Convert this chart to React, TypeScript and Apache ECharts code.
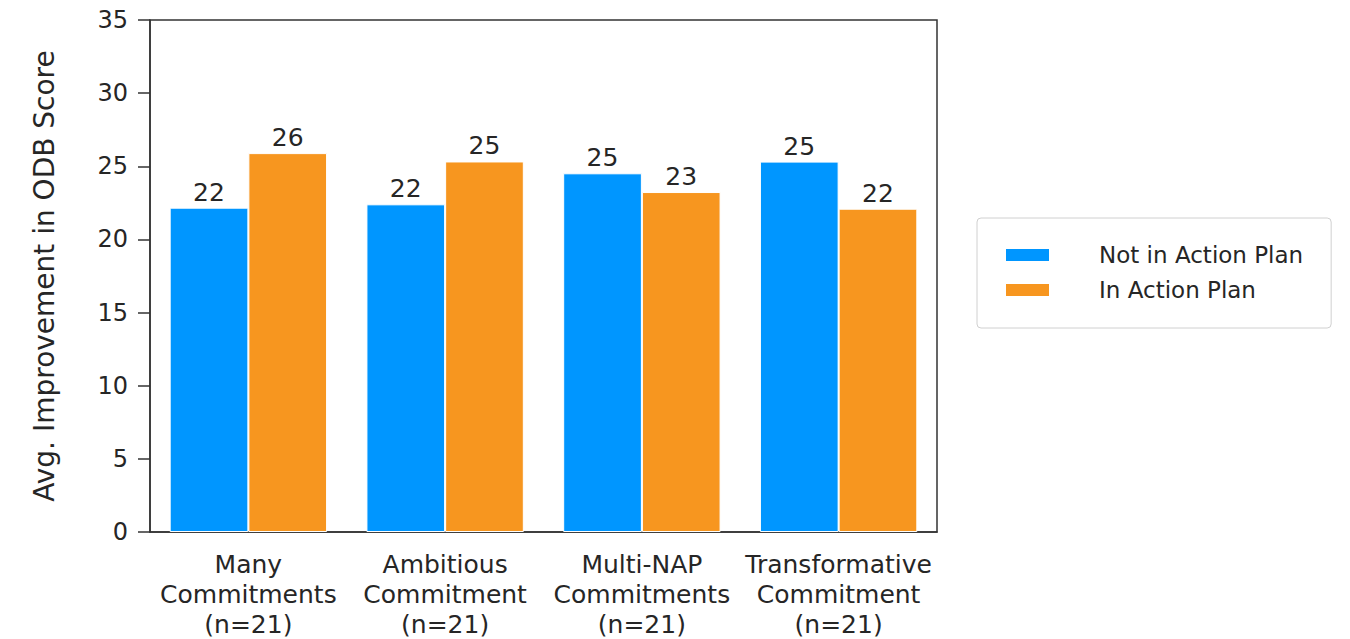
import React, { useEffect, useRef } from "react";
import * as echarts from "echarts";

const categories = [
  "Many\nCommitments\n(n=21)",
  "Ambitious\nCommitment\n(n=21)",
  "Multi-NAP\nCommitments\n(n=21)",
  "Transformative\nCommitment\n(n=21)",
];
const notInPlan = [22.17, 22.4, 24.52, 25.32];
const inPlan = [25.9, 25.33, 23.24, 22.1];
const seriesNames = ["Not in Action Plan", "In Action Plan"];
const yTicks = { min: 0, max: 35, interval: 5 };

const FONT = "DejaVu Sans";
const TXT = "#262626";

export default function App() {
  const ref = useRef<HTMLDivElement>(null);
  useEffect(() => {
    const chart = echarts.init(ref.current!, null, { renderer: "svg" });
    const label = {
      show: true,
      position: "top",
      distance: 3,
      fontFamily: FONT,
      fontSize: 25,
      color: TXT,
      formatter: (p: any) => String(Math.round(p.value)),
    };
    chart.setOption({
      animation: false,
      backgroundColor: "#fff",
      grid: {
        left: 150,
        right: 413,
        top: 20,
        bottom: 107,
        show: true,
        borderColor: "#333",
        borderWidth: 1.5,
        backgroundColor: "transparent",
      },
      legend: {
        orient: "vertical",
        left: 977,
        top: 218,
        padding: [24, 28, 25, 27],
        itemGap: 9,
        itemWidth: 45,
        itemHeight: 14,
        borderColor: "#d0d0d0",
        borderWidth: 1,
        borderRadius: 4,
        icon: "rect",
        textStyle: {
          fontFamily: FONT,
          fontSize: 23,
          color: TXT,
          lineHeight: 26,
          padding: [0, 0, 0, 44],
        },
        data: seriesNames,
      },
      xAxis: {
        type: "category",
        data: categories,
        axisLine: { lineStyle: { color: "#333", width: 1.5 } },
        axisTick: { alignWithLabel: true, length: 12, lineStyle: { color: "#333", width: 1.5 } },
        axisLabel: {
          fontFamily: FONT,
          fontSize: 25,
          color: TXT,
          lineHeight: 30,
          margin: 17,
          interval: 0,
        },
      },
      yAxis: {
        type: "value",
        min: yTicks.min,
        max: yTicks.max,
        interval: yTicks.interval,
        name: "Avg. Improvement in ODB Score",
        nameLocation: "middle",
        nameGap: 92,
        nameTextStyle: { fontFamily: FONT, fontSize: 28, color: TXT },
        splitLine: { show: false },
        axisLine: { show: true, lineStyle: { color: "#333", width: 1.5 } },
        axisTick: { show: true, length: 12, lineStyle: { color: "#333", width: 1.5 } },
        axisLabel: { fontFamily: FONT, fontSize: 24, color: TXT, margin: 22 },
      },
      series: [
        {
          name: seriesNames[0],
          type: "bar",
          data: notInPlan,
          barGap: "0%",
          barCategoryGap: "20%",
          itemStyle: { color: "#0096ff", borderColor: "#fff", borderWidth: 1 },
          label,
        },
        {
          name: seriesNames[1],
          type: "bar",
          data: inPlan,
          barGap: "0%",
          barCategoryGap: "20%",
          itemStyle: { color: "#f7961f", borderColor: "#fff", borderWidth: 1 },
          label,
        },
      ],
    });
    return () => chart.dispose();
  }, []);
  return (
    <div
      ref={ref}
      style={{ position: "fixed", left: 0, top: 0, width: 1350, height: 639 }}
    />
  );
}
